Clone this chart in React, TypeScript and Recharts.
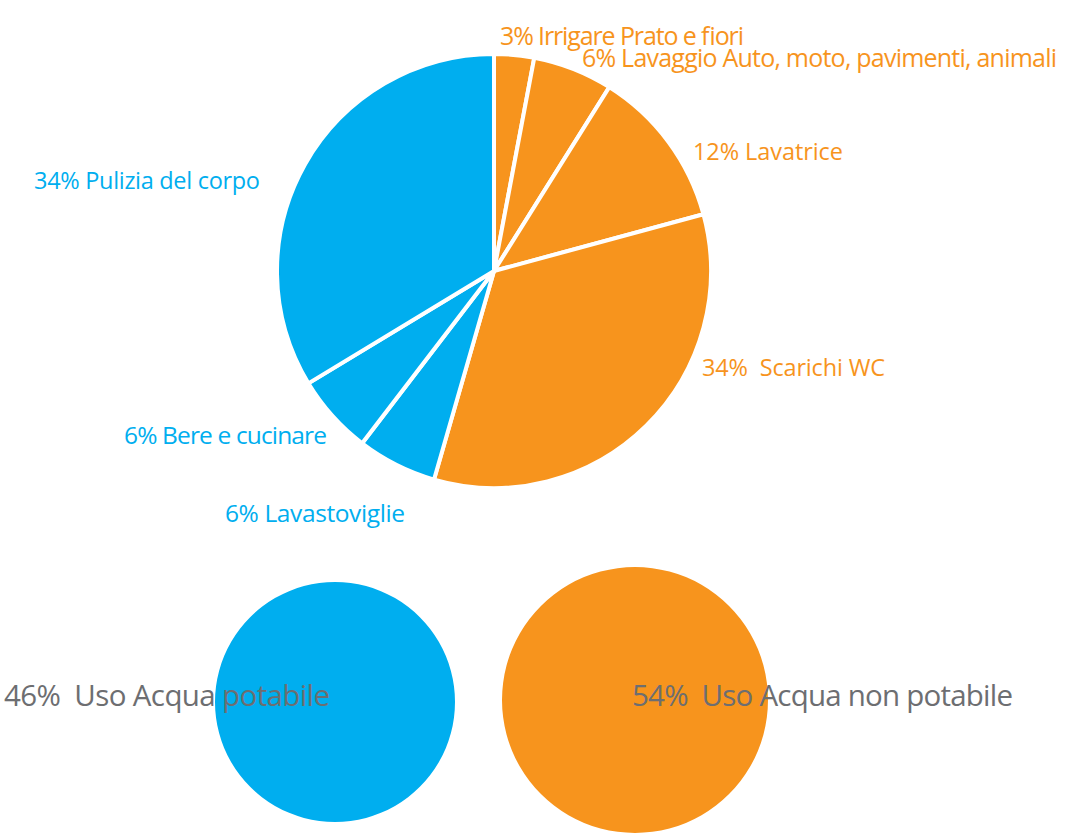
import React from "react";
import { PieChart, Pie, Cell } from "recharts";

const BLUE = "#00AEEF";
const ORANGE = "#F7941D";
const GRAY = "#6D6E71";

const categories = [
  "Irrigare Prato e fiori",
  "Lavaggio Auto, moto, pavimenti, animali",
  "Lavatrice",
  "Scarichi WC",
  "Lavastoviglie",
  "Bere e cucinare",
  "Pulizia del corpo",
];
const values = [3, 6, 12, 34, 6, 6, 34];
const potable = [false, false, false, false, true, true, true];

const summaryNames = ["Uso Acqua potabile", "Uso Acqua non potabile"];
const summaryValues = [46, 54];

const mainData = categories.map((name, i) => ({ name, value: values[i], potable: potable[i] }));

// label layout (anchor point, font size and text width of each label)
const labelLayout = [
  { x: 500, y: 45, size: 25, w: 244 },
  { x: 582, y: 67, size: 25, w: 475 },
  { x: 693, y: 160, size: 23.5, w: 150 },
  { x: 702, y: 376, size: 23.5, w: 183 },
  { x: 225, y: 522, size: 24.5, w: 180 },
  { x: 124, y: 444, size: 24.5, w: 203 },
  { x: 34, y: 189, size: 23.5, w: 226 },
];

const summaryLayout = [
  { x: 4, y: 706, w: 326 },
  { x: 632, y: 706, w: 381 },
];

const fontFamily = "'Open Sans', 'Noto Sans', sans-serif";

const renderMainLabel = (props: any) => {
  const i = props.index;
  const l = labelLayout[i];
  const d = mainData[i];
  const sep = d.name === "Scarichi WC" ? "\u00A0 " : " ";
  return (
    <text
      key={`ml-${i}`}
      x={l.x}
      y={l.y}
      fill={d.potable ? BLUE : ORANGE}
      fontSize={l.size}
      fontFamily={fontFamily}
      textLength={l.w}
      lengthAdjust="spacing"
      textAnchor="start"
    >
      {`${d.value}%${sep}${d.name}`}
    </text>
  );
};

const makeSummaryLabel = (k: number) => (props: any) => {
  const l = summaryLayout[k];
  return (
    <text
      key={`sl-${k}`}
      x={l.x}
      y={l.y}
      fill={GRAY}
      fontSize={29.5}
      fontFamily={fontFamily}
      textLength={l.w}
      lengthAdjust="spacing"
      textAnchor="start"
    >
      {`${summaryValues[k]}%\u00A0 ${summaryNames[k]}`}
    </text>
  );
};

export default function App() {
  return (
    <div style={{ position: "absolute", left: 0, top: 0 }}>
      <PieChart width={1090} height={833} margin={{ top: 0, right: 0, bottom: 0, left: 0 }}>
        <Pie
          data={mainData}
          dataKey="value"
          cx={494}
          cy={271}
          outerRadius={217}
          startAngle={90}
          endAngle={-270}
          stroke="#FFFFFF"
          strokeWidth={4}
          label={renderMainLabel}
          labelLine={false}
          isAnimationActive={false}
        >
          {mainData.map((d, i) => (
            <Cell key={i} fill={d.potable ? BLUE : ORANGE} />
          ))}
        </Pie>
        <Pie
          data={[{ name: summaryNames[0], value: summaryValues[0] }]}
          dataKey="value"
          cx={335}
          cy={702}
          outerRadius={120}
          startAngle={90}
          endAngle={-270}
          stroke="none"
          fill={BLUE}
          label={makeSummaryLabel(0)}
          labelLine={false}
          isAnimationActive={false}
        />
        <Pie
          data={[{ name: summaryNames[1], value: summaryValues[1] }]}
          dataKey="value"
          cx={635}
          cy={700}
          outerRadius={133}
          startAngle={90}
          endAngle={-270}
          stroke="none"
          fill={ORANGE}
          label={makeSummaryLabel(1)}
          labelLine={false}
          isAnimationActive={false}
        />
      </PieChart>
    </div>
  );
}
